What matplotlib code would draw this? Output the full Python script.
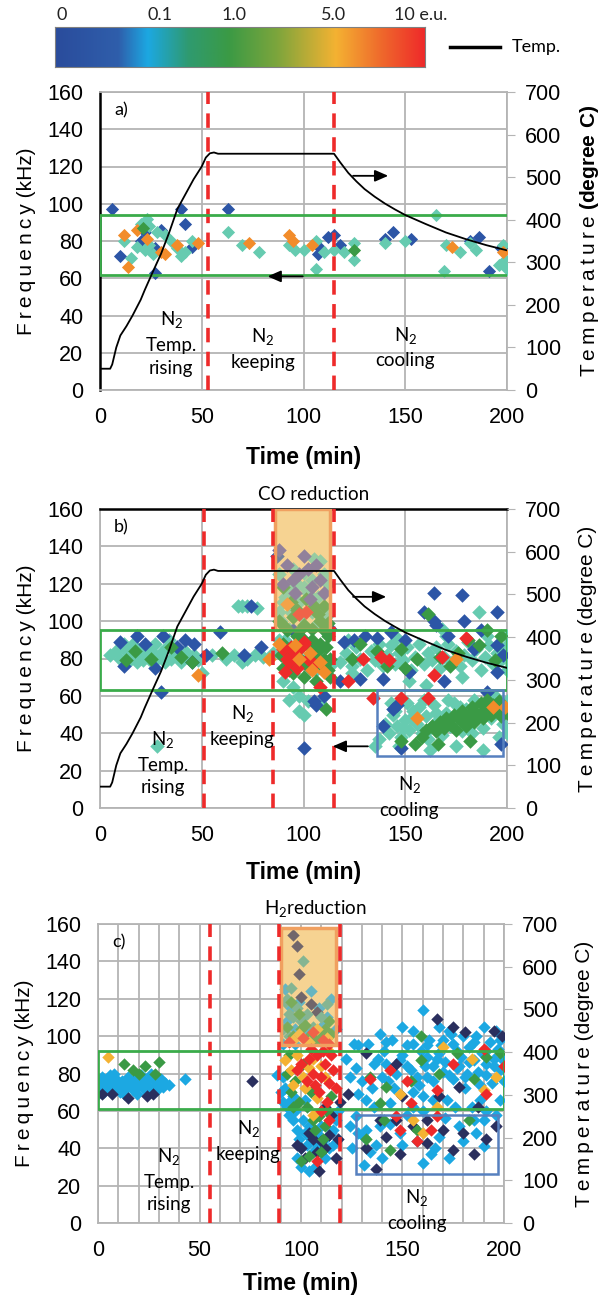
import numpy as np
import matplotlib
matplotlib.use("Agg")
import matplotlib.pyplot as plt
from matplotlib.colors import LinearSegmentedColormap
from matplotlib.patches import Rectangle

plt.rcParams['font.family'] = ['Liberation Sans', 'DejaVu Sans']
plt.rcParams['mathtext.fontset'] = 'custom'
plt.rcParams['mathtext.rm'] = 'Lato'
plt.rcParams['mathtext.bf'] = 'Liberation Sans:bold'

# temperature program (min, degree C)
temp_t = [0, 5, 6, 8, 10, 13, 16, 20, 22, 26, 30, 34, 38, 42, 46, 50, 52, 54, 56, 58,
          115, 118, 122, 126, 130, 135, 140, 145, 150, 160, 170, 180, 190, 200]
temp_c = [50, 50, 60, 100, 128, 150, 175, 212, 235, 278, 320, 370, 425, 460, 495, 525, 546, 556, 558, 555,
          555, 535, 510, 490, 472, 454, 438, 424, 411, 390, 370, 354, 340, 328]

# colour scale of the emission level (e.u.)
cb_ticks = ['0', '0.1', '1.0', '5.0', '10 e.u.']
cb_pos = [0.005, 0.25, 0.45, 0.72, 0.915]
cb_colors = ['#2a4c9c', '#2f5eab', '#1ca8e2', '#2f9a70', '#3b9a45', '#7ca53c', '#f4b232', '#ef6b2c', '#ee2a2a']
cb_nodes = [0.0, 0.17, 0.25, 0.36, 0.47, 0.6, 0.76, 0.88, 1.0]

BLUE = '#2c55a6'
TEAL = '#66cbb0'
ORANGE = '#f28c2a'
GREEN = '#3a9a45'
RED = '#ee2a2a'
PURPLE = '#5c58a8'
SKY = '#1ca8e2'
NAVY = '#2a2f5e'
AMBER = '#f4b232'

# ---- a) N2 only: (time min, frequency kHz)
a_blue = [(6, 97), (40, 97), (63, 97), (42, 89), (10, 72), (20, 80), (22, 85), (27, 76), (30, 86), (27, 63),
          (45, 77), (107, 73), (108, 76), (112, 82), (115, 83), (118, 78), (140, 81), (144, 85), (153, 81),
          (182, 80), (186, 82), (191, 64), (197, 76)]
a_teal = [(12, 80), (15, 71), (20, 89), (22, 75), (23, 92), (24, 88), (26, 73), (28, 85), (32, 83), (35, 80),
          (38, 76), (40, 72), (42, 74), (45, 80), (63, 85), (70, 78), (78, 74), (93, 78), (96, 75), (100, 75),
          (106, 80), (106, 65), (110, 74), (115, 75), (120, 74), (125, 79), (125, 70), (140, 79), (150, 80),
          (165, 94), (169, 64), (170, 78), (177, 74), (182, 79), (185, 75), (196, 67), (198, 78), (199, 70),
          (200, 65), (24, 78), (18, 77)]
a_orange = [(12, 83), (14, 66), (18, 86), (23, 81), (30, 74), (32, 73), (38, 78), (48, 79), (73, 79), (93, 83),
            (95, 80), (104, 78), (173, 77), (198, 74)]
a_green = [(21, 87), (125, 75)]

# ---- b) CO reduction
b_teal = [(5, 82), (8, 84), (10, 80), (12, 86), (14, 83), (16, 88), (18, 78), (18, 85), (20, 82), (22, 86),
          (24, 80), (25, 84), (27, 88), (28, 80), (30, 83), (32, 78), (33, 86), (35, 80), (36, 84), (38, 82),
          (40, 78), (42, 84), (44, 80), (46, 82), (48, 79), (50, 72), (28, 33), (12, 88), (21, 79), (34, 90),
          (15, 80), (55, 82), (62, 80), (66, 82), (70, 78), (72, 80), (76, 82), (80, 81), (68, 108), (70, 108),
          (72, 108), (77, 107), (90, 68), (95, 65), (98, 60), (100, 50), (102, 57), (108, 56), (93, 58),
          (98, 52), (85, 83), (88, 90), (113, 76), (88, 125), (92, 118), (95, 128), (100, 118), (105, 133),
          (108, 132), (110, 125), (98, 110), (104, 105), (112, 120), (90, 110), (94, 105), (107, 113),
          (89, 100), (91, 113), (93, 96), (97, 120), (99, 103), (102, 115), (106, 98), (109, 106), (111, 102),
          (88, 105), (100, 126), (104, 122), (95, 108), (91, 90), (101, 80), (106, 74),
          (118, 78), (121, 83), (124, 76), (126, 86), (128, 80), (131, 74), (133, 84), (135, 79), (137, 88),
          (139, 76), (141, 82), (143, 87), (145, 77), (147, 83), (149, 79), (151, 86), (153, 74), (155, 81),
          (157, 88), (159, 77), (161, 83), (163, 79), (165, 86), (167, 75), (169, 81), (171, 88), (173, 78),
          (175, 84), (177, 76), (179, 82), (181, 89), (183, 79), (185, 85), (187, 74), (189, 81), (191, 87),
          (193, 77), (195, 83), (197, 79), (199, 86), (200, 74), (122, 90), (146, 91), (170, 92), (190, 92),
          (200, 92), (152, 68), (178, 70), (160, 66), (186, 105), (124, 72), (168, 96), (200, 80),
          (140, 45), (142, 40), (144, 50), (146, 44), (148, 38), (150, 47), (152, 42), (154, 52), (156, 45),
          (158, 40), (160, 49), (162, 43), (164, 55), (166, 47), (168, 39), (170, 51), (172, 44), (174, 56),
          (176, 48), (178, 41), (180, 53), (182, 46), (184, 58), (186, 50), (188, 43), (190, 55), (192, 48),
          (194, 60), (196, 52), (198, 45), (200, 57), (143, 56), (151, 56), (159, 58), (137, 37), (147, 33),
          (162, 31), (175, 33), (188, 31), (196, 38), (200, 40), (135, 33), (145, 52), (149, 43), (153, 48),
          (157, 54), (161, 37), (165, 51), (171, 58), (177, 54), (183, 40)]
b_blue = [(10, 89), (12, 76), (18, 92), (22, 88), (27, 75), (31, 92), (38, 86), (42, 90), (45, 78), (30, 62),
          (52, 82), (46, 88), (59, 94), (79, 86), (71, 82), (74, 108), (87, 135), (100, 32), (106, 55),
          (103, 75), (95, 95), (113, 96), (110, 60), (164, 115), (178, 114), (195, 105), (159, 105), (164, 100),
          (165, 98), (143, 94), (171, 92), (179, 100), (195, 87), (198, 82), (120, 89), (125, 90), (136, 91),
          (184, 85), (118, 68), (128, 69), (139, 69), (152, 73), (105, 57), (146, 55), (144, 53), (139, 44),
          (148, 32), (197, 34), (190, 62), (195, 73), (169, 68), (130, 92), (150, 90), (187, 95)]
b_green = [(13, 79), (17, 84), (25, 80), (35, 86), (40, 81), (45, 78), (60, 83), (88, 100), (92, 95),
           (95, 102), (100, 98), (105, 108), (108, 100), (110, 95), (90, 88), (92, 82), (95, 78), (98, 85),
           (100, 90), (102, 76), (105, 82), (108, 88), (110, 80), (112, 74), (95, 72), (100, 70), (106, 68),
           (112, 92), (90, 75), (97, 92), (103, 86), (113, 80), (111, 53), (90, 118), (94, 110), (97, 106),
           (101, 112), (104, 96), (107, 104), (110, 108), (112, 99), (91, 97), (99, 96), (89, 82), (93, 74),
           (99, 79), (104, 90), (107, 84), (109, 76), (111, 86), (113, 70),
           (128, 88), (136, 84), (141, 76),
           (148, 85), (156, 80), (161, 104), (167, 81), (172, 76), (181, 90), (186, 87), (190, 95), (194, 79),
           (197, 92), (176, 83), (150, 75), (124, 80), (160, 42), (163, 44), (165, 41), (167, 46), (169, 43),
           (170, 48), (172, 45), (174, 50), (175, 42), (177, 47), (178, 52), (180, 44), (181, 49), (183, 54),
           (184, 46), (185, 51), (187, 56), (188, 48), (189, 53), (190, 58), (192, 50), (193, 55), (195, 52),
           (196, 57), (197, 49), (198, 54), (200, 51), (148, 36), (155, 34), (166, 34), (182, 36), (158, 38)]
b_red = [(90, 85), (92, 80), (94, 86), (93, 78), (96, 82), (100, 88), (98, 104), (101, 105), (105, 77),
         (108, 65), (91, 73), (95, 84), (97, 75), (99, 86), (102, 80), (122, 68), (164, 71), (138, 81),
         (142, 79), (180, 91), (168, 81), (129, 80), (100, 89), (148, 59), (134, 59), (161, 59)]
b_orange = [(92, 109), (88, 88), (96, 87), (98, 80), (103, 83), (108, 78), (110, 73), (104, 74), (48, 71),
            (83, 80), (175, 80), (156, 48), (193, 54), (199, 54)]
b_purple = [(88, 138), (92, 130), (95, 122), (98, 125), (100, 135), (102, 128), (104, 118), (106, 130),
            (108, 122), (110, 115), (96, 115), (103, 112), (90, 120)]

# ---- c) H2 reduction
c_sky = [(0, 75), (1, 72), (2, 78), (3, 70), (4, 76), (5, 73), (6, 79), (7, 71), (8, 75), (9, 77), (10, 73),
         (11, 70), (12, 76), (13, 74), (14, 72), (15, 78), (16, 75), (17, 71), (18, 77), (19, 73), (20, 75),
         (21, 79), (22, 72), (23, 76), (24, 74), (25, 70), (26, 78), (27, 73), (28, 76), (29, 71), (30, 75),
         (31, 77), (32, 73), (33, 75), (35, 74), (43, 77), (0, 69), (2, 73), (8, 80), (13, 69), (19, 69),
         (26, 80), (88, 79), (90, 70), (91, 65), (93, 62), (94, 58), (95, 66), (96, 55), (97, 60), (98, 50),
         (99, 45), (100, 40), (101, 55), (102, 48), (103, 42), (104, 52), (105, 45), (106, 38), (107, 43),
         (108, 48), (109, 40), (110, 52), (112, 45), (114, 40), (116, 50), (100, 30), (104, 28), (98, 35),
         (107, 30), (112, 35), (116, 42), (92, 72), (91, 78), (118, 60), (96, 68), (102, 66), (115, 48),
         (117, 55), (91, 96), (93, 108), (95, 115), (97, 104), (99, 118), (101, 110), (103, 102), (105, 124),
         (107, 98), (109, 115), (111, 106), (113, 110), (115, 120), (117, 104), (92, 125), (97, 96),
         (160, 114), (150, 105), (155, 103), (139, 101), (126, 96), (128, 95), (142, 97), (168, 105),
         (173, 103), (190, 105), (196, 103), (124, 78), (128, 69), (130, 76), (132, 66), (140, 78), (154, 82),
         (162, 78), (170, 81), (178, 84), (185, 87), (191, 85), (198, 82), (162, 89), (168, 91), (177, 92),
         (183, 94), (191, 92), (149, 87), (142, 85), (132, 50), (131, 46), (139, 52), (149, 48), (157, 44),
         (168, 46), (173, 35), (164, 37), (190, 41), (131, 31), (137, 42), (144, 53), (178, 52), (185, 55),
         (155, 62), (172, 66), (191, 60), (198, 66), (136, 85), (165, 84), (175, 77), (182, 80), (195, 88),
         (158, 74), (146, 72), (188, 74), (170, 98), (180, 100), (152, 95), (160, 68), (125, 40), (127, 57),
         (184, 62), (194, 75), (122, 88), (127, 83), (133, 96), (135, 72), (138, 88), (141, 92), (143, 76),
         (145, 98), (147, 80), (150, 90), (152, 84), (155, 96), (157, 78), (159, 92), (161, 84), (163, 98),
         (165, 76), (167, 88), (169, 95), (171, 86), (173, 79), (175, 96), (177, 83), (179, 89), (181, 78),
         (183, 86), (185, 97), (187, 81), (189, 91), (191, 79), (193, 97), (195, 84), (197, 93), (199, 88),
         (200, 76), (136, 62), (144, 64), (152, 58), (160, 60), (176, 62), (188, 66), (196, 58), (134, 38),
         (140, 35), (150, 42), (166, 40), (180, 44), (186, 48), (160, 32), (171, 56), (124, 52), (128, 48),
         (162, 95), (174, 101), (186, 100), (198, 98), (155, 70), (165, 66), (181, 72), (190, 55)]
c_navy = [(2, 69), (7, 69), (15, 67), (24, 68), (27, 69), (76, 76), (100, 40), (102, 35), (106, 45),
          (108, 38), (110, 44), (112, 40), (114, 47), (117, 35), (104, 48), (98, 42), (115, 58), (119, 65),
          (109, 28), (112, 62), (118, 45), (96, 154), (98, 148), (99, 133), (100, 121), (105, 117), (108, 113),
          (167, 109), (175, 105), (181, 102), (195, 103), (199, 100), (132, 91), (147, 85), (123, 69),
          (150, 68), (168, 68), (178, 73), (139, 55), (132, 40), (137, 29), (142, 46), (149, 37), (155, 52),
          (162, 43), (170, 50), (175, 39), (180, 48), (185, 37), (191, 45), (196, 52), (162, 55), (147, 55),
          (187, 62)]
c_teal = [(101, 140), (95, 126), (93, 120), (92, 118), (94, 112), (96, 110), (98, 115), (100, 108),
          (103, 112), (106, 105), (110, 110), (113, 117), (91, 104), (94, 100)]
c_green = [(13, 85), (17, 82), (23, 84), (30, 86), (20, 80), (28, 80), (93, 105), (96, 100), (100, 104),
           (104, 100), (108, 98), (112, 104), (115, 101), (95, 118), (99, 112), (102, 106), (110, 100),
           (114, 108), (93, 80), (95, 70), (97, 76), (99, 65), (101, 85),
           (103, 62), (105, 70), (106, 55), (107, 50), (109, 57), (111, 45), (113, 60), (115, 68), (110, 38),
           (100, 33), (104, 36), (94, 90), (96, 62), (112, 52), (159, 100), (134, 78), (142, 73), (154, 76),
           (168, 80), (177, 91), (185, 77), (191, 89), (198, 91), (141, 55), (144, 39), (157, 50), (132, 45),
           (159, 87), (183, 55), (139, 64)]
c_red = [(94, 97), (101, 99), (106, 102), (111, 98), (114, 96), (100, 85), (104, 88), (106, 80), (108, 90),
         (110, 78), (112, 85), (114, 75), (116, 82), (109, 70), (111, 92), (113, 65), (107, 74), (115, 90),
         (117, 72), (105, 93), (103, 76), (110, 60), (114, 55), (108, 33), (98, 82), (144, 82), (134, 77),
         (152, 76), (167, 71), (175, 85), (190, 93), (200, 84), (149, 50), (164, 50), (157, 44), (167, 57),
         (191, 69), (147, 57), (154, 64)]
c_amber = [(5, 89), (96, 98), (104, 97), (108, 104), (113, 99), (99, 101), (92, 87), (95, 82), (98, 90),
           (101, 78), (104, 83), (106, 88), (102, 72), (108, 67), (110, 84), (112, 78), (114, 92), (96, 74),
           (106, 58), (170, 94), (184, 88), (190, 71), (149, 69), (155, 55), (160, 48), (167, 62), (196, 78)]

cmap = LinearSegmentedColormap.from_list('eu', list(zip(cb_nodes, cb_colors)))

fig = plt.figure(figsize=(6.01, 13.01), dpi=100)

# colour bar across the top
cax = fig.add_axes([55 / 601, 1 - 67 / 1301, 370 / 601, 40 / 1301])
cax.imshow(np.linspace(0, 1, 256)[None, :], aspect='auto', cmap=cmap, extent=[0, 1, 0, 1])
cax.set_xticks([])
cax.set_yticks([])
for s in cax.spines.values():
    s.set_color('#808080')
for p, lab in zip(cb_pos, cb_ticks):
    cax.text(p, 1.1, lab, transform=cax.transAxes, fontsize=13, family='Lato', ha='left', va='bottom',
             color='#222222')
fig.add_artist(plt.Line2D([450 / 601, 500 / 601], [1 - 47 / 1301] * 2, color='black', lw=2.5))
fig.text(512 / 601, 1 - 47 / 1301, 'Temp.', fontsize=13, family='Lato', va='center')

dash = (0, (4, 2.6))
sp = '\u2009'
freq_label = sp.join('Frequency') + ' (kHz)'
temp_label = sp.join('Temperature')


def panel(rect, letter, xgrid, xpad):
    ax = fig.add_axes(rect)
    ax.set_xlim(0, 200)
    ax.set_ylim(0, 160)
    ax.set_xticks([0, 50, 100, 150, 200])
    ax.set_yticks(range(0, 161, 20))
    ax.set_xticks(xgrid, minor=True)
    ax.grid(True, which='both', color='#b4b4b4', lw=1.3)
    ax.tick_params(length=0, labelsize=15.5, pad=12, which='both')
    for s in ax.spines.values():
        s.set_color('#b4b4b4')
        s.set_linewidth(1.3)
    ax.set_axisbelow(True)
    ax.set_ylabel(freq_label, fontsize=15, labelpad=8)
    ax.set_xlabel('Time (min)', fontsize=16.5, fontweight='bold', labelpad=xpad)
    ax.text(7, 150, letter, fontsize=13, family='Lato', va='center')
    ax2 = ax.twinx()
    ax2.set_ylim(0, 700)
    ax2.set_yticks(range(0, 701, 100))
    ax2.tick_params(labelsize=15.5, length=6, color='#b4b4b4', pad=7)
    for s in ax2.spines.values():
        s.set_visible(False)
    return ax, ax2


def dots(ax, pts, color, size):
    t, f = zip(*pts)
    ax.scatter(t, f, marker='D', s=size, color=color, linewidths=0, zorder=3)


def label(ax, x, y, txt):
    ax.text(x, y, txt, fontsize=13.5, family='Lato', ha='center', va='center', linespacing=1.4, zorder=6)


def vlines(ax, xs):
    for x in xs:
        ax.axvline(x, color=RED, lw=2.6, ls=dash, zorder=5)


def box(ax, x0, y0, x1, y1, color, lw):
    ax.add_patch(Rectangle((x0, y0), x1 - x0, y1 - y0, fill=False, ec=color, lw=lw, zorder=5))


def shade(ax, x0, y0, x1, y1):
    # solid band behind the points, thin veil over them
    ax.add_patch(Rectangle((x0, y0), x1 - x0, y1 - y0, fc='#f7d699', ec='none', zorder=2))
    ax.add_patch(Rectangle((x0, y0), x1 - x0, y1 - y0, fc='#f5cf85', ec='none', alpha=0.35, zorder=4))
    box(ax, x0, y0, x1, y1, '#f0a060', 2.5)


def arrow(ax, x0, x1, y):
    ax.annotate('', xy=(x1, y), xytext=(x0, y),
                arrowprops=dict(arrowstyle='-|>,head_length=0.8,head_width=0.35', color='black', lw=1.3),
                zorder=6)


# ---- panel a
ax, ax2 = panel([100 / 601, 1 - 390 / 1301, 407 / 601, 298 / 1301], 'a)', [], 13)
ax.spines['left'].set_color('black')
ax.spines['left'].set_linewidth(1.8)
dots(ax, a_blue, BLUE, 45)
dots(ax, a_teal, TEAL, 45)
dots(ax, a_orange, ORANGE, 45)
dots(ax, a_green, GREEN, 45)
ax2.plot(temp_t, temp_c, color='black', lw=1.3, zorder=4)
vlines(ax, [53, 115])
box(ax, 0, 62, 201, 94, '#3aab4a', 2)
arrow(ax, 123, 143, 115)
arrow(ax, 101, 81, 61)
label(ax, 35, 25, 'N$_2$\nTemp.\nrising')
label(ax, 80, 22, 'N$_2$\nkeeping')
label(ax, 150, 23, 'N$_2$\ncooling')
ax2.set_ylabel(temp_label + ' $\\mathbf{(degree\\ C)}$', fontsize=15, labelpad=12)

# ---- panel b
ax, ax2 = panel([100 / 601, 1 - 808 / 1301, 407 / 601, 299 / 1301], 'b)', [], 11)
ax.spines['top'].set_color('black')
ax.spines['top'].set_linewidth(1.8)
shade(ax, 86, 95, 113, 160)
dots(ax, b_teal, TEAL, 55)
dots(ax, b_blue, BLUE, 55)
dots(ax, b_green, GREEN, 55)
dots(ax, b_purple, PURPLE, 55)
dots(ax, b_red, RED, 55)
dots(ax, b_orange, ORANGE, 55)
ax2.plot(temp_t, temp_c, color='black', lw=1.3, zorder=4)
vlines(ax, [51, 85, 115])
box(ax, 0, 63, 200, 95, '#3aab4a', 2)
box(ax, 136, 28, 198, 63, '#5680bf', 1.8)
arrow(ax, 123, 142, 113)
arrow(ax, 133, 113, 33)
label(ax, 31, 24, 'N$_2$\nTemp.\nrising')
label(ax, 70, 44, 'N$_2$\nkeeping')
label(ax, 152, 6, 'N$_2$\ncooling')
ax.text(105, 163, 'CO reduction', fontsize=13.5, family='Lato', ha='center', va='bottom')
ax2.set_ylabel(temp_label + ' (degree C)', fontsize=15, labelpad=12)

# ---- panel c
ax, ax2 = panel([98 / 601, 1 - 1223 / 1301, 406 / 601, 299 / 1301], 'c)', range(10, 200, 10), 8)
shade(ax, 90, 95, 117, 158)
dots(ax, c_sky, SKY, 40)
dots(ax, c_navy, NAVY, 40)
dots(ax, c_teal, '#4aa899', 40)
dots(ax, c_green, GREEN, 40)
dots(ax, c_amber, AMBER, 40)
dots(ax, c_red, RED, 40)
vlines(ax, [55, 89, 119])
box(ax, 0, 61, 200, 92, '#3aab4a', 2)
box(ax, 127, 26, 197, 58, '#5680bf', 1.8)
label(ax, 35, 23, 'N$_2$\nTemp.\nrising')
label(ax, 74, 44, 'N$_2$\nkeeping')
label(ax, 157, 7, 'N$_2$\ncooling')
ax.text(107, 162, 'H$_2$reduction', fontsize=13.5, family='Lato', ha='center', va='bottom')
ax2.set_ylabel(temp_label + ' (degree C)', fontsize=15, labelpad=12)

fig.savefig('out.png', dpi=100)
